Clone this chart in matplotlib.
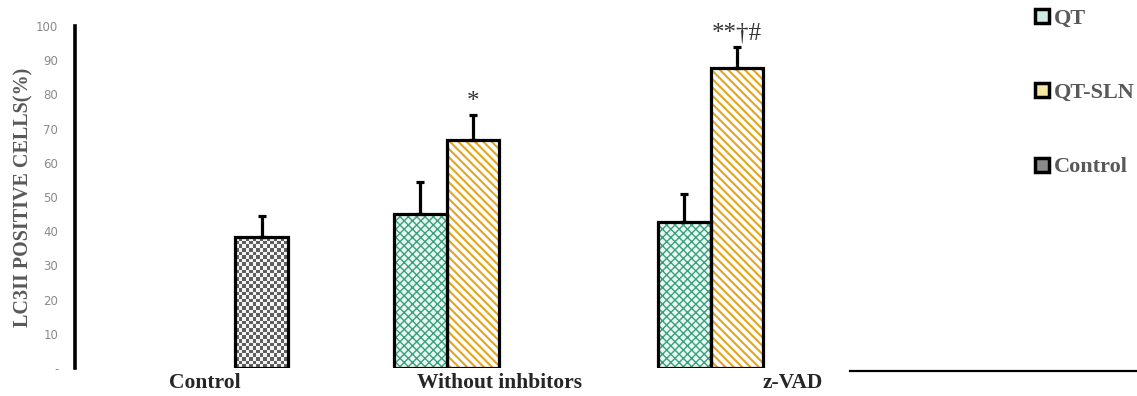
import numpy as np
import matplotlib.pyplot as plt
from matplotlib.patches import Patch

# group labels and bar values (mean, upper error)
groups = ['Control', 'Without inhbitors', 'z-VAD']
label_pos = [-0.015, 1.10, 2.21]

qt_idx = [1, 2]
qt_mean = [45.0, 42.7]
qt_err = [9.4, 8.2]

sln_idx = [1, 2]
sln_mean = [66.7, 87.7]
sln_err = [7.3, 6.2]

ctrl_idx = [0]
ctrl_mean = [38.3]
ctrl_err = [6.1]

sig_idx = [1, 2]
sig_text = ['*', '**\u2020#']

yticks = [0, 10, 20, 30, 40, 50, 60, 70, 80, 90, 100]
ytick_labels = ['-', '10', '20', '30', '40', '50', '60', '70', '80', '90', '100']

W = 0.2
green = '#3a9f80'
gold = '#e4a520'

fig = plt.figure(figsize=(11.37, 3.96), dpi=100)
ax = fig.add_axes([75 / 1137, 28 / 396, 1062 / 1137, 342 / 396])
ax.set_xlim(-0.5076, 3.515)
ax.set_ylim(0, 100)


def hatched(x, h, face, hcolor, hatch, hlw):
    plt.rcParams['hatch.linewidth'] = hlw
    ax.bar(x, h, W, color=face, edgecolor=hcolor, hatch=hatch, lw=0, zorder=2)
    ax.bar(x, h, W, facecolor='none', edgecolor='black', lw=2.3, zorder=3)


qx = np.array(qt_idx) - W
sx = np.array(sln_idx, dtype=float)
cx = np.array(ctrl_idx) + W

hatched(qx, qt_mean, '#e9f8f1', green, 'xxxx', 1.0)
hatched(sx, sln_mean, 'white', gold, '\\\\\\\\', 1.5)

# control bars: grey checkerboard fill clipped to each bar
ctrl_bars = ax.bar(cx, ctrl_mean, W, facecolor='none', edgecolor='black', lw=2.3, zorder=3)
for b in ctrl_bars:
    x0, x1 = b.get_x(), b.get_x() + b.get_width()
    h = b.get_height()
    p0 = ax.transData.transform((x0, 0))
    p1 = ax.transData.transform((x1, h))
    nc = int(round((p1[0] - p0[0]) / 3.6))
    nr = int(round((p1[1] - p0[1]) / 3.6))
    chk = (np.add.outer(np.arange(nr), np.arange(nc)) % 2).astype(float)
    im = ax.imshow(chk, extent=(x0, x1, 0, h), cmap='Greys', vmin=-0.15, vmax=1.5,
                   aspect='auto', interpolation='nearest', zorder=2)
    im.set_clip_path(b)
ax.set_xlim(-0.5076, 3.515)
ax.set_ylim(0, 100)

ekw = dict(fmt='none', ecolor='black', elinewidth=2.3, capsize=3, capthick=2.3, zorder=4)
ax.errorbar(qx, qt_mean, yerr=[np.zeros(len(qt_err)), qt_err], **ekw)
ax.errorbar(sx, sln_mean, yerr=[np.zeros(len(sln_err)), sln_err], **ekw)
ax.errorbar(cx, ctrl_mean, yerr=[np.zeros(len(ctrl_err)), ctrl_err], **ekw)

for i, t in zip(sig_idx, sig_text):
    k = sln_idx.index(i)
    top = sln_mean[k] + sln_err[k]
    ax.text(sx[k], top + 0.6, t, ha='center', va='bottom', fontsize=18,
            family='Liberation Serif', color='#333333')

# axes styling
for s in ['top', 'right', 'bottom']:
    ax.spines[s].set_visible(False)
ax.spines['left'].set_linewidth(2.6)
ax.set_yticks(yticks)
ax.set_yticklabels(ytick_labels)
ax.tick_params(axis='y', length=0, pad=12, labelsize=8.5, labelcolor='#8a8a8a')
ax.set_xticks([])
ax.axhline(-0.9, xmin=0.73, xmax=1.0, color='black', lw=1.6, clip_on=False)

ax.set_ylabel('LC3II POSITIVE CELLS(%)', family='Liberation Serif', fontweight='bold',
              fontsize=14.5, color='#595959')
ax.yaxis.set_label_coords(-0.039, 0.5)

for p, g in zip(label_pos, groups):
    ax.text(p, -0.045, g, transform=ax.get_xaxis_transform(), ha='center', va='center',
            family='Liberation Serif', fontweight='bold', fontsize=15.5, color='#262626')

handles = [Patch(facecolor='#cdeee6', edgecolor='black', lw=2.5, label='QT'),
           Patch(facecolor='#f4e7a6', edgecolor='black', lw=2.5, label='QT-SLN'),
           Patch(facecolor='#8a8a8a', edgecolor='black', lw=2.5, label='Control')]
ax.legend(handles=handles, loc='upper left', bbox_to_anchor=(1022 / 1137, 1.012),
          bbox_transform=fig.transFigure, frameon=False, handlelength=0.6,
          handleheight=0.6, handletextpad=0.25, labelspacing=2.45, borderaxespad=0.2,
          prop={'family': 'Liberation Serif', 'weight': 'bold', 'size': 16},
          labelcolor='#595959')

fig.savefig('out.png', dpi=100)
